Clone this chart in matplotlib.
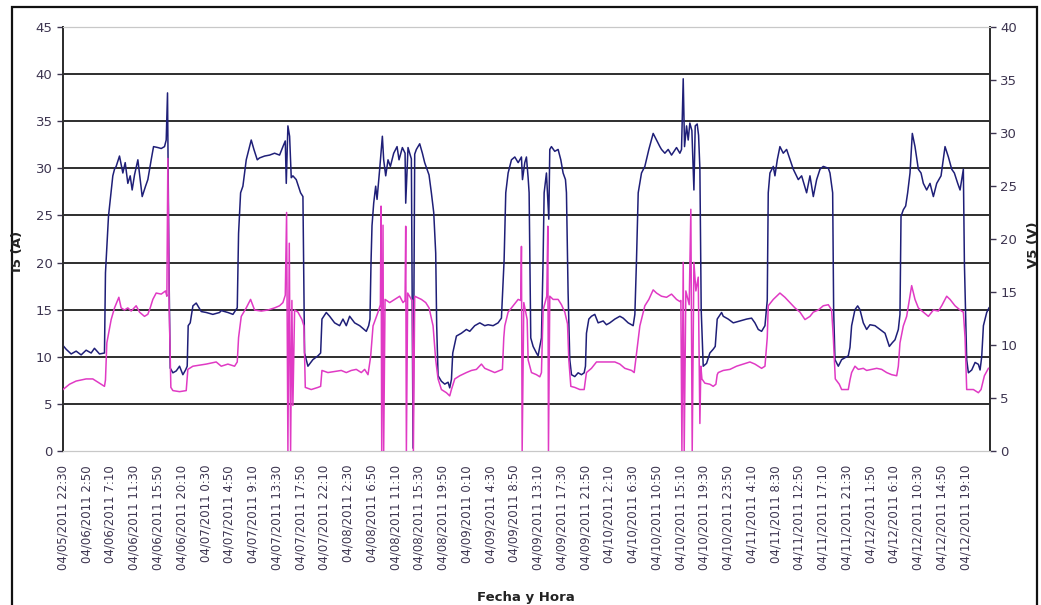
import numpy as np
import matplotlib.pyplot as plt
from matplotlib.patches import Rectangle

# Hours elapsed since 04/05/2011 22:30 and the logged I5 current (A)
i5_h = [0.00, 0.58, 1.49, 2.40, 3.31, 4.22, 5.14, 5.74, 6.66, 7.57, 7.75, 8.30, 9.09, 9.40,
        9.70, 10.31, 10.92, 11.35, 11.83, 12.26, 12.62, 13.05, 13.66, 14.08, 14.45, 15.06,
        15.48, 15.79, 16.09, 16.52, 17.31, 17.92, 18.52, 18.83, 19.07, 19.32, 19.56, 20.05,
        20.66, 21.26, 21.87, 22.36, 22.66, 22.84, 23.21, 23.70, 24.30, 25.22, 26.13, 27.34,
        28.56, 28.87, 30.08, 31.00, 31.79, 32.03, 32.40, 32.82, 33.43, 34.34, 34.83, 35.44,
        35.86, 36.78, 37.69, 38.60, 39.51, 40.12, 40.55, 40.73, 41.03, 41.34, 41.64, 41.94,
        42.55, 43.34, 43.77, 44.07, 44.68, 45.59, 46.51, 47.00, 47.24, 48.03, 48.64, 49.55,
        50.46, 51.07, 51.68, 52.29, 53.20, 54.12, 55.33, 55.76, 56.00, 56.19, 56.37, 56.68,
        57.04, 57.29, 57.77, 58.26, 58.50, 58.87, 59.29, 59.72, 60.33, 60.94, 61.30, 61.91,
        62.40, 62.52, 62.94, 63.55, 63.86, 64.16, 64.46, 65.07, 65.56, 65.98, 66.41, 66.77,
        67.20, 67.63, 67.99, 68.17, 68.42, 69.03, 69.64, 70.25, 70.55, 70.86, 71.10, 71.77,
        72.68, 73.59, 74.20, 75.11, 76.03, 76.94, 77.55, 78.46, 79.37, 79.98, 80.47, 80.77,
        81.20, 81.81, 82.42, 83.03, 83.63, 83.82, 84.24, 84.54, 84.85, 85.03, 85.33, 85.76,
        86.37, 86.67, 86.98, 87.28, 87.58, 87.77, 88.19, 88.62, 88.80, 89.10, 89.71, 90.32,
        90.81, 91.23, 91.66, 91.84, 92.14, 92.45, 92.76, 93.36, 93.97, 94.58, 95.07, 95.31,
        95.49, 95.92, 96.40, 97.01, 97.62, 98.54, 99.14, 99.75, 100.67, 101.58, 102.19,
        103.10, 104.01, 104.32, 104.62, 104.93, 105.53, 106.14, 106.87, 107.66, 108.27,
        108.88, 109.18, 109.79, 110.40, 111.01, 111.92, 112.53, 112.83, 113.14, 113.38,
        113.75, 114.05, 114.35, 114.72, 115.09, 115.33, 115.69, 115.94, 116.18, 116.42,
        116.79, 117.40, 118.00, 118.61, 118.98, 119.34, 120.14, 120.44, 121.35, 122.27,
        123.48, 124.70, 125.61, 126.22, 126.83, 127.44, 128.05, 128.47, 128.65, 128.96,
        129.57, 129.87, 130.30, 130.78, 131.39, 132.00, 133.22, 134.13, 134.74, 135.65,
        136.26, 136.87, 137.48, 138.09, 138.69, 139.61, 139.91, 140.40, 140.58, 140.82,
        141.43, 142.04, 142.65, 143.25, 143.56, 143.86, 144.47, 144.96, 145.38, 145.99,
        146.60, 147.21, 148.12, 149.04, 149.95, 150.74, 151.29, 151.77, 152.38, 152.68,
        152.87, 153.29, 153.72, 154.08, 154.51, 154.93, 155.42, 156.03, 156.52, 156.94,
        157.55, 158.16, 158.77, 159.38, 160.17, 160.90, 161.51, 162.12, 162.60, 163.21,
        163.64, 164.24, 164.43, 164.85, 165.16, 165.77, 166.38, 166.98, 167.29, 167.59,
        167.90, 168.50, 168.93]
i5_a = [11.2, 10.8, 10.3, 10.6, 10.2, 10.7, 10.4, 10.9, 10.3, 10.4, 18.9, 24.9, 29.2, 29.9,
        30.2, 31.3, 29.5, 30.6, 28.4, 29.2, 27.7, 29.3, 30.9, 28.8, 27.0, 28.1,
        28.8, 29.9, 30.9, 32.3, 32.2, 32.1, 32.3, 33.0, 38.0, 20.0, 8.8, 8.3,
        8.5, 9.0, 8.1, 8.6, 9.0, 13.3, 13.6, 15.4, 15.7, 14.8, 14.7, 14.5,
        14.7, 14.9, 14.7, 14.5, 15.2, 23.1, 27.4, 28.1, 30.9, 33.0, 32.0, 30.9,
        31.1, 31.3, 31.4, 31.6, 31.4, 32.3, 32.9, 28.4, 34.5, 33.4, 29.0, 29.2,
        28.8, 27.4, 27.0, 10.4, 9.0, 9.7, 10.1, 10.4, 14.0, 14.7, 14.3, 13.6,
        13.3, 14.0, 13.3, 14.3, 13.6, 13.3, 12.7, 13.3, 14.0, 20.0, 23.9, 26.3,
        28.1, 26.7, 29.9, 33.4, 30.9, 29.2, 30.9, 30.2, 31.6, 32.3, 30.9, 32.2,
        31.6, 26.3, 32.2, 31.0, 0.3, 31.5, 32.0, 32.6, 31.6, 30.6, 29.9, 29.3,
        27.4, 25.3, 21.0, 13.3, 8.0, 7.4, 7.1, 7.3, 6.7, 7.6, 10.4, 12.2,
        12.5, 12.9, 12.7, 13.3, 13.6, 13.3, 13.4, 13.3, 13.6, 14.1, 20.3, 27.4,
        29.5, 30.9, 31.2, 30.6, 31.2, 28.8, 30.6, 31.2, 29.0, 27.4, 12.0, 11.1,
        10.4, 10.1, 11.1, 12.0, 20.3, 27.4, 29.5, 24.6, 32.0, 32.3, 31.8, 32.0,
        30.9, 29.5, 28.8, 27.4, 16.8, 9.7, 8.1, 7.9, 8.3, 8.1, 8.3, 9.0,
        12.5, 14.0, 14.3, 14.5, 13.6, 13.8, 13.4, 13.6, 14.0, 14.3, 14.1,
        13.6, 13.3, 14.5, 20.3, 27.4, 29.5, 30.2, 32.0, 33.7, 33.0,
        32.3, 32.0, 31.6, 32.0, 31.4, 32.2, 31.6, 32.0, 39.5, 32.3,
        34.5, 33.0, 34.8, 34.0, 27.7, 34.5, 34.7, 33.5, 30.0, 15.0,
        9.0, 9.3, 10.4, 10.8, 11.1, 14.0, 14.7, 14.3, 14.0, 13.6,
        13.8, 14.0, 14.1, 13.6, 12.9, 12.7, 13.3, 16.0, 27.4, 29.5,
        30.2, 29.2, 30.9, 32.3, 31.6, 32.0, 29.9, 28.8, 29.2, 27.4,
        29.2, 27.0, 28.8, 29.9, 30.2, 30.0, 29.5, 27.4, 15.0, 9.7,
        9.0, 9.7, 9.9, 10.1, 11.0, 13.3, 15.0, 15.4, 15.0, 13.6,
        12.9, 13.4, 13.3, 12.9, 12.5, 11.1, 11.5, 11.8, 12.9, 14.5,
        24.9, 25.6, 26.0, 27.4, 29.5, 33.7, 32.3, 29.9, 29.5, 28.4,
        27.7, 28.4, 27.0, 28.4, 29.2, 32.3, 31.2, 29.9, 29.5, 28.4,
        27.7, 29.9, 20.0, 9.7, 8.3, 8.6, 9.4, 9.2, 8.6, 10.0,
        13.3, 14.7, 15.2]

# Hours elapsed and the logged V5 voltage (V)
v5_h = [0.00, 1.19, 2.40, 4.22, 5.44, 6.66, 7.57, 7.75, 8.00, 8.79, 9.40, 10.19, 10.61,
        11.22, 11.83, 12.44, 13.35, 13.96, 14.87, 15.48, 15.91, 16.39, 17.00, 17.92, 18.71,
        18.95, 19.13, 19.38, 19.68, 20.05, 21.26, 22.48, 22.78, 23.70, 26.13, 27.95,
        28.87, 30.08, 31.30, 31.79, 32.03, 32.52, 33.43, 34.22, 34.95, 36.17, 37.38, 38.60,
        39.51, 40.12, 40.55, 40.79, 41.03, 41.28, 41.52, 41.76, 41.94, 42.25, 42.86, 43.59,
        43.95, 44.20, 45.29, 46.51, 47.00, 47.24, 48.33, 49.55, 50.76, 51.68, 52.59, 53.50,
        54.42, 55.03, 55.64, 56.12, 56.56, 57.47, 57.90, 58.02, 58.14, 58.38, 58.50, 58.75,
        59.60, 60.51, 61.42, 62.03, 62.40, 62.52, 62.64, 62.88, 63.55, 63.74, 63.92, 64.16,
        65.38, 66.17, 66.78, 67.51, 67.99, 68.42, 69.03, 69.94, 70.55, 70.86, 71.47, 72.38,
        73.59, 74.51, 75.42, 76.33, 76.94, 77.85, 78.76, 79.68, 80.16, 80.41, 80.59, 81.20,
        82.11, 83.03, 83.51, 83.63, 83.76, 84.06, 84.67, 84.85, 85.46, 86.37, 86.98, 87.28,
        87.58, 88.25, 88.44, 88.56, 88.80, 89.41, 90.32, 90.93, 91.54, 92.03, 92.27, 92.64,
        93.36, 94.28, 95.07, 95.31, 95.49, 96.40, 97.32, 98.84, 100.06, 100.67, 101.58,
        102.49, 103.71, 104.20, 105.23, 106.14, 106.87, 107.66, 108.27, 109.18, 110.10,
        111.01, 111.92, 112.53, 112.71, 112.90, 113.14, 113.32, 113.62, 114.23, 114.53,
        114.78, 115.09, 115.45, 115.88, 116.18, 116.36, 116.55, 117.09, 118.00, 118.61,
        119.10, 119.34, 119.53, 120.44, 121.66, 122.87, 124.09, 125.31, 126.22, 126.83,
        127.44, 128.05, 128.47, 128.65, 129.57, 130.78, 131.69, 132.61, 133.52, 134.44,
        135.35, 136.26, 136.87, 137.78, 138.69, 139.61, 140.21, 140.52, 140.88, 141.61,
        142.04, 143.25, 143.56, 143.86, 144.47, 145.08, 145.99, 146.60, 147.51, 148.43,
        149.34, 150.25, 151.16, 152.08, 152.38, 152.68, 153.29, 153.90, 154.81, 155.42,
        156.03, 156.94, 157.86, 158.77, 159.68, 160.29, 161.20, 161.81, 162.72, 163.64,
        164.24, 164.55, 164.85, 166.07, 166.98, 167.47, 168.08, 168.81]
v5_v = [5.8, 6.3, 6.6, 6.8, 6.8, 6.4, 6.1, 6.7, 10.2, 12.4, 13.5, 14.5, 13.5,
        13.3, 13.5, 13.2, 13.7, 13.1, 12.7, 12.9, 13.5, 14.3, 14.9, 14.8, 15.1,
        14.6, 27.6, 13.3, 6.0, 5.7, 5.6, 5.7, 7.7, 8.0, 8.2, 8.4,
        8.0, 8.2, 8.0, 8.4, 10.7, 12.7, 13.5, 14.3, 13.3, 13.2, 13.3, 13.5,
        13.7, 14.0, 14.7, 22.5, 0.0, 19.6, 0.0, 14.2, 4.3, 13.3, 13.1, 12.4,
        11.8, 6.0, 5.8, 6.0, 6.1, 7.6, 7.4, 7.5, 7.6, 7.4, 7.6, 7.7,
        7.4, 7.7, 7.2, 8.9, 11.8, 13.1, 13.8, 23.1, 0.0, 21.3, 0.0, 14.3,
        14.0, 14.3, 14.6, 14.0, 14.2, 21.2, 0.0, 14.9, 14.3, 14.2, 0.0, 14.6,
        14.3, 14.0, 13.5, 11.8, 8.6, 6.8, 5.8, 5.5, 5.2, 5.8, 6.8, 7.1,
        7.4, 7.6, 7.7, 8.2, 7.8, 7.6, 7.4, 7.6, 7.7, 10.7, 11.8, 13.1,
        13.7, 14.3, 14.2, 19.3, 0.0, 14.0, 12.4, 8.6, 7.4, 7.2, 7.0, 7.4,
        13.3, 14.6, 21.2, 0.0, 14.6, 14.3, 14.3, 13.8, 13.1, 12.0, 8.6, 6.1,
        6.0, 5.8, 5.8, 6.7, 7.4, 7.8, 8.4, 8.4, 8.4, 8.4, 8.2,
        7.8, 7.6, 7.4, 11.8, 13.7, 14.3, 15.2, 14.9, 14.6, 14.5,
        14.8, 14.3, 14.1, 14.2, 0.0, 17.8, 0.0, 15.1, 13.8, 22.8,
        0.0, 17.8, 15.1, 16.4, 2.6, 8.0, 6.8, 6.4, 6.3, 6.1,
        6.3, 7.2, 7.4, 7.6, 7.7, 8.0, 8.2, 8.4, 8.2, 8.0,
        7.8, 8.0, 10.7, 13.7, 14.3, 14.9, 14.5, 14.0, 13.5, 13.1,
        12.4, 12.7, 13.1, 13.3, 13.7, 13.8, 13.3, 10.7, 6.8, 6.3,
        5.8, 5.8, 6.7, 7.4, 8.0, 7.7, 7.8, 7.6, 7.7, 7.8,
        7.7, 7.4, 7.2, 7.1, 8.0, 10.2, 11.8, 12.7, 15.6, 14.3,
        13.5, 13.1, 12.7, 13.3, 13.2, 13.7, 14.6, 14.3, 13.7, 13.3,
        13.1, 10.7, 5.8, 5.8, 5.5, 5.8, 7.1, 7.8]

# Category labels, one every 4 h 20 min of logging
tick_labels = [
    "04/05/2011 22:30", "04/06/2011 2:50", "04/06/2011 7:10", "04/06/2011 11:30",
    "04/06/2011 15:50", "04/06/2011 20:10", "04/07/2011 0:30", "04/07/2011 4:50",
    "04/07/2011 9:10", "04/07/2011 13:30", "04/07/2011 17:50", "04/07/2011 22:10",
    "04/08/2011 2:30", "04/08/2011 6:50", "04/08/2011 11:10", "04/08/2011 15:30",
    "04/08/2011 19:50", "04/09/2011 0:10", "04/09/2011 4:30", "04/09/2011 8:50",
    "04/09/2011 13:10", "04/09/2011 17:30", "04/09/2011 21:50", "04/10/2011 2:10",
    "04/10/2011 6:30", "04/10/2011 10:50", "04/10/2011 15:10", "04/10/2011 19:30",
    "04/10/2011 23:50", "04/11/2011 4:10", "04/11/2011 8:30", "04/11/2011 12:50",
    "04/11/2011 17:10", "04/11/2011 21:30", "04/12/2011 1:50", "04/12/2011 6:10",
    "04/12/2011 10:30", "04/12/2011 14:50", "04/12/2011 19:10",
]
tick_step_h = 260 / 60
t_end = 169.1

text_col = "#3d3550"
grid_col = "#2e2e2e"
light_col = "#c8c8c8"
blue = "#1f1f78"
pink = "#e03ac4"

fig = plt.figure(figsize=(10.41, 6.05), dpi=100)
ax = fig.add_axes([0.0605, 0.2545, 0.8905, 0.701])
ax2 = ax.twinx()

ax.plot(i5_h, i5_a, color=blue, lw=1.1, zorder=3)
ax2.plot(v5_h, v5_v, color=pink, lw=1.1, zorder=3)

ax.set_xlim(0, t_end)
ax.set_ylim(0, 45)
ax2.set_ylim(0, 40)
ax.set_yticks(np.arange(0, 46, 5))
ax2.set_yticks(np.arange(0, 41, 5))

# dark horizontal guides at every 5 A (the top one stays light)
for v in range(5, 45, 5):
    ax.axhline(v, color=grid_col, lw=1.4, zorder=1)

ax.set_xticks(np.arange(len(tick_labels)) * tick_step_h)
ax.set_xticklabels(tick_labels, rotation=90, fontsize=8.5, color=text_col)
ax.tick_params(axis="x", length=0, pad=10)
ax.tick_params(axis="y", labelsize=9.5, colors=text_col, length=4, width=1, direction="out")
ax2.tick_params(axis="y", labelsize=9.5, colors=text_col, length=4, width=1, direction="out")

for a in (ax, ax2):
    a.spines["top"].set_color(light_col)
    a.spines["bottom"].set_color(light_col)
    a.spines["left"].set_color(grid_col)
    a.spines["right"].set_color(grid_col)
    a.spines["left"].set_linewidth(1.3)
    a.spines["right"].set_linewidth(1.3)

fig.text(0.017, 0.585, "I5 (A)", rotation=90, ha="center", va="center",
         fontsize=9.5, fontweight="bold", color="#222222")
fig.text(0.993, 0.595, "V5 (V)", rotation=90, ha="center", va="center",
         fontsize=9.5, fontweight="bold", color="#222222")
fig.text(0.505, 0.013, "Fecha y Hora", ha="center", va="center",
         fontsize=9.5, fontweight="bold", color="#222222")

# outer chart frame
fig.patches.append(Rectangle((12 / 1041, -0.05), 1025 / 1041, 1.05 - 7 / 605,
                             transform=fig.transFigure, fill=False,
                             edgecolor="#111111", lw=1.6))

fig.savefig("out.png", dpi=100)
